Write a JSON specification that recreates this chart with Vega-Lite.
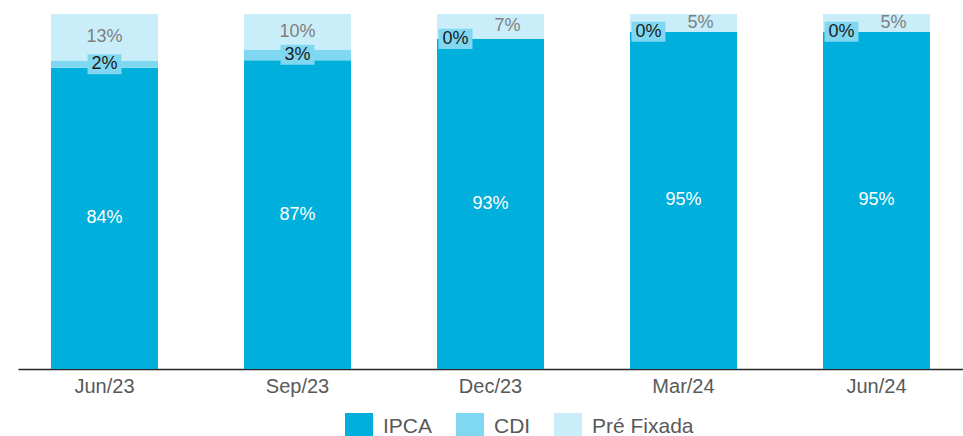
{
  "$schema": "https://vega.github.io/schema/vega-lite/v6.json",
  "width": 945,
  "height": 355,
  "padding": {"left": 18, "top": 12, "right": 0, "bottom": 0},
  "config": {"view": {"stroke": null}, "font": "Liberation Sans"},
  "data": {
    "values": [
      {"month": "Jun/23", "series": "IPCA", "value": 0.84},
      {"month": "Jun/23", "series": "CDI", "value": 0.02},
      {"month": "Jun/23", "series": "Pré Fixada", "value": 0.13},
      {"month": "Sep/23", "series": "IPCA", "value": 0.87},
      {"month": "Sep/23", "series": "CDI", "value": 0.03},
      {"month": "Sep/23", "series": "Pré Fixada", "value": 0.10},
      {"month": "Dec/23", "series": "IPCA", "value": 0.93},
      {"month": "Dec/23", "series": "CDI", "value": 0.0},
      {"month": "Dec/23", "series": "Pré Fixada", "value": 0.07},
      {"month": "Mar/24", "series": "IPCA", "value": 0.95},
      {"month": "Mar/24", "series": "CDI", "value": 0.0},
      {"month": "Mar/24", "series": "Pré Fixada", "value": 0.05},
      {"month": "Jun/24", "series": "IPCA", "value": 0.95},
      {"month": "Jun/24", "series": "CDI", "value": 0.0},
      {"month": "Jun/24", "series": "Pré Fixada", "value": 0.05}
    ]
  },
  "transform": [
    {"window": [{"op": "row_number", "as": "rank"}], "groupby": ["month"]}
  ],
  "encoding": {
    "x": {
      "field": "month",
      "type": "nominal",
      "sort": null,
      "scale": {"paddingInner": 0.4456, "paddingOuter": 0.171},
      "axis": {
        "title": null,
        "labelAngle": 0,
        "ticks": false,
        "labelFontSize": 20,
        "labelColor": "#595959",
        "labelPadding": 7,
        "domainColor": "#262626",
        "domainWidth": 1.5
      }
    },
    "order": {"field": "rank", "type": "quantitative"}
  },
  "layer": [
    {
      "mark": {"type": "bar"},
      "encoding": {
        "y": {"field": "value", "type": "quantitative", "stack": "normalize", "axis": null},
        "color": {
          "field": "series",
          "type": "nominal",
          "scale": {"domain": ["IPCA", "CDI", "Pré Fixada"], "range": ["#00afdb", "#80d7f2", "#caeef9"]},
          "legend": {
            "orient": "none",
            "legendX": 327,
            "legendY": 399,
            "direction": "horizontal",
            "title": null,
            "symbolType": "square",
            "symbolSize": 784,
            "symbolStrokeWidth": 0,
            "symbolOpacity": 1,
            "labelFontSize": 21,
            "labelColor": "#595959",
            "columnPadding": 23,
            "labelOffset": 10
          }
        }
      }
    },
    {
      "mark": {"type": "point", "shape": "M-1,-0.59H1V0.59H-1Z", "filled": true, "size": 1156, "color": "#80d7f2"},
      "encoding": {
        "y": {"field": "value", "type": "quantitative", "stack": "normalize", "bandPosition": 0.5},
        "detail": {"field": "series"},
        "opacity": {"condition": {"test": "datum.series === 'CDI' && datum.value > 0", "value": 1}, "value": 0}
      }
    },
    {
      "mark": {"type": "point", "shape": "M-3.06,-0.59H-1.06V0.59H-3.06Z", "filled": true, "size": 1156, "color": "#80d7f2"},
      "encoding": {
        "y": {"field": "value", "type": "quantitative", "stack": "normalize", "bandPosition": 0.5},
        "detail": {"field": "series"},
        "opacity": {"condition": {"test": "datum.series === 'CDI' && datum.value == 0", "value": 1}, "value": 0}
      }
    },
    {
      "mark": {"type": "text", "fontSize": 18, "color": "#ffffff"},
      "encoding": {
        "y": {"field": "value", "type": "quantitative", "stack": "normalize", "bandPosition": 0.5},
        "detail": {"field": "series"},
        "text": {"field": "value", "type": "quantitative", "format": ".0%"},
        "opacity": {"condition": {"test": "datum.series === 'IPCA'", "value": 1}, "value": 0}
      }
    },
    {
      "mark": {"type": "text", "fontSize": 18, "color": "#1a1a1a"},
      "encoding": {
        "y": {"field": "value", "type": "quantitative", "stack": "normalize", "bandPosition": 0.5},
        "detail": {"field": "series"},
        "text": {"field": "value", "type": "quantitative", "format": ".0%"},
        "opacity": {"condition": {"test": "datum.series === 'CDI' && datum.value > 0", "value": 1}, "value": 0}
      }
    },
    {
      "mark": {"type": "text", "fontSize": 18, "color": "#1a1a1a", "dx": -35},
      "encoding": {
        "y": {"field": "value", "type": "quantitative", "stack": "normalize", "bandPosition": 0.5},
        "detail": {"field": "series"},
        "text": {"field": "value", "type": "quantitative", "format": ".0%"},
        "opacity": {"condition": {"test": "datum.series === 'CDI' && datum.value == 0", "value": 1}, "value": 0}
      }
    },
    {
      "mark": {"type": "text", "fontSize": 18, "color": "#7f7f7f"},
      "encoding": {
        "y": {"field": "value", "type": "quantitative", "stack": "normalize", "bandPosition": 0.5},
        "detail": {"field": "series"},
        "text": {"field": "value", "type": "quantitative", "format": ".0%"},
        "opacity": {"condition": {"test": "datum.series === 'Pré Fixada' && datum.value >= 0.1", "value": 1}, "value": 0}
      }
    },
    {
      "mark": {"type": "text", "fontSize": 18, "color": "#7f7f7f", "dx": 17},
      "encoding": {
        "y": {"field": "value", "type": "quantitative", "stack": "normalize", "bandPosition": 0.5},
        "detail": {"field": "series"},
        "text": {"field": "value", "type": "quantitative", "format": ".0%"},
        "opacity": {"condition": {"test": "datum.series === 'Pré Fixada' && datum.value < 0.1", "value": 1}, "value": 0}
      }
    }
  ]
}
